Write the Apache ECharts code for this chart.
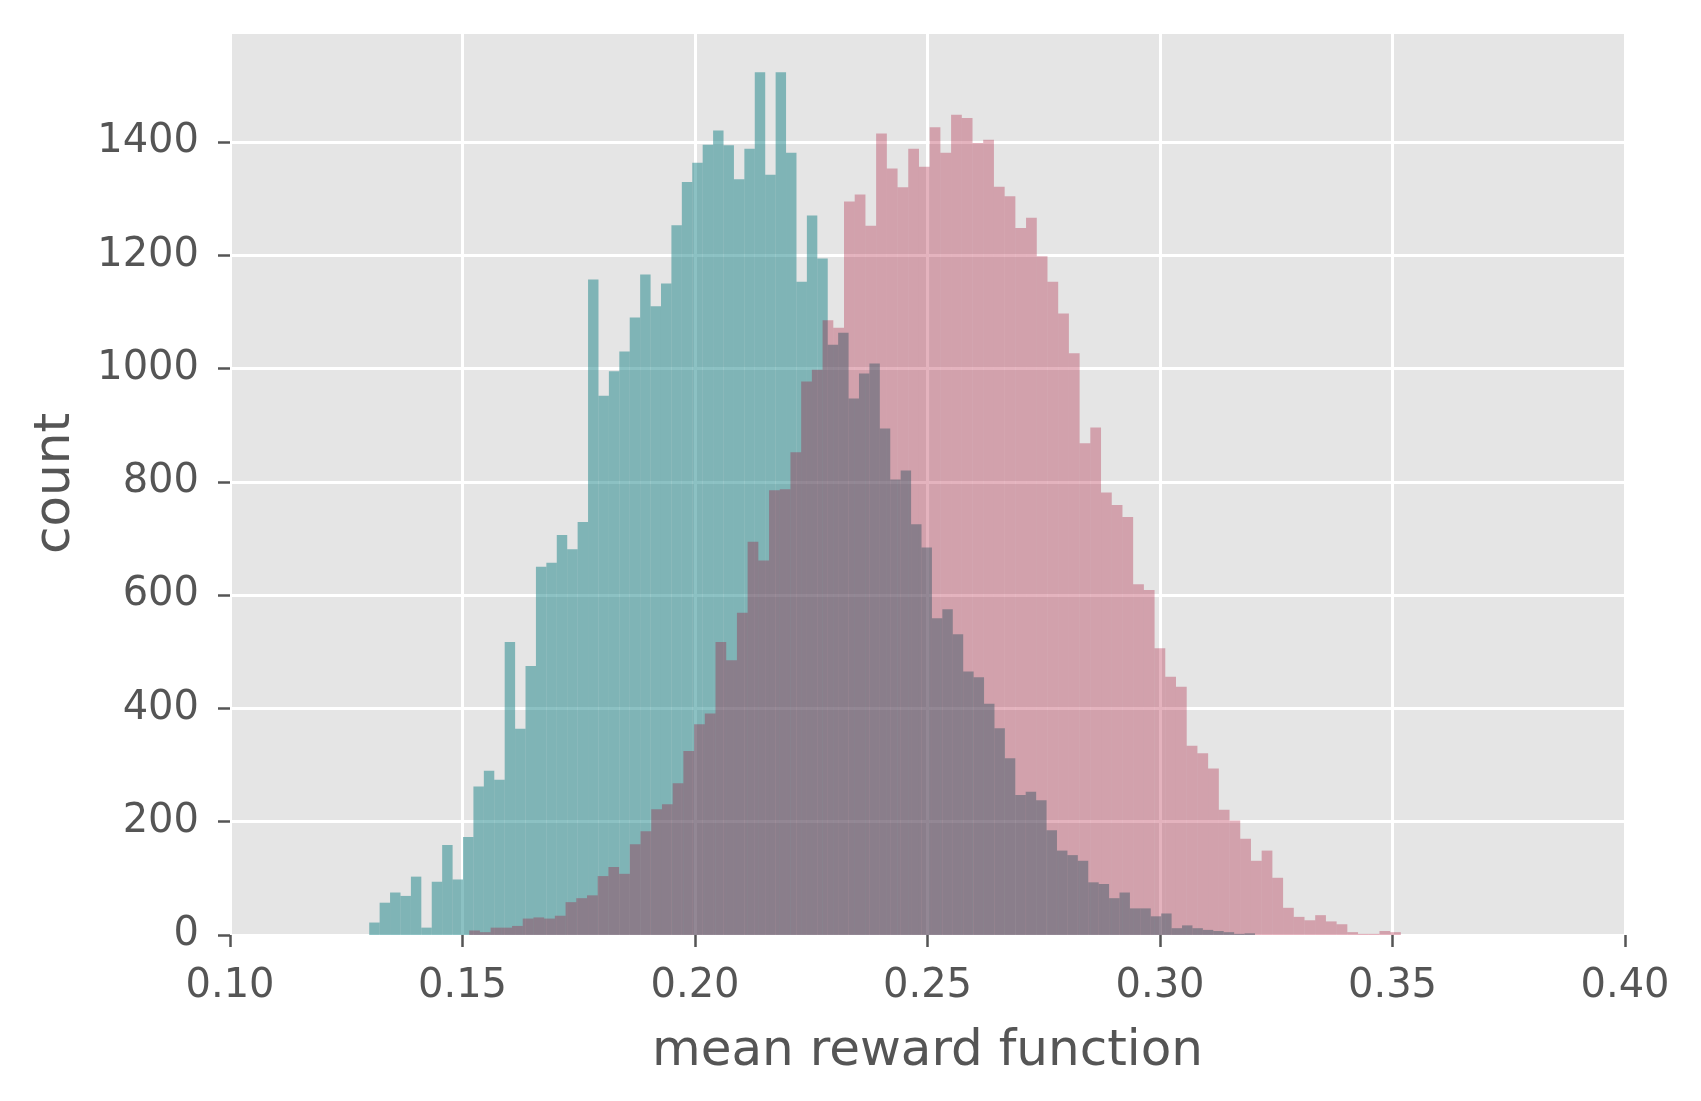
<!DOCTYPE html>
<html>
<head>
<meta charset="utf-8">
<script src="https://cdn.jsdelivr.net/npm/echarts@6/dist/echarts.min.js"></script>
<style>
  html, body { margin: 0; padding: 0; background: #fff; }
  #chart { width: 1701px; height: 1101px; }
</style>
</head>
<body>
<div id="chart"></div>
<script>
// teal histogram: first bin edge, bin width, counts per bin
const tealStart = 0.12994
const tealWidth = 0.002241
const tealCounts = [
  22, 57, 75, 69, 103, 13, 94, 159, 98, 173,
  262, 290, 274, 517, 364, 475, 650, 657, 706, 681,
  729, 1157, 952, 995, 1030, 1090, 1166, 1110, 1150, 1253,
  1329, 1363, 1395, 1420, 1394, 1334, 1388, 1523, 1342, 1523,
  1381, 1153, 1270, 1194, 1042, 1063, 947, 991, 1009, 894,
  804, 820, 725, 684, 559, 575, 531, 465, 455, 408,
  365, 312, 247, 253, 238, 185, 149, 141, 131, 93,
  90, 65, 75, 47, 47, 33, 38, 12, 17, 12,
  9, 7, 5, 2, 3
]

// pink histogram
const pinkStart = 0.15144
const pinkWidth = 0.002303
const pinkCounts = [
  8, 5, 13, 13, 16, 29, 31, 29, 34, 58,
  65, 70, 104, 120, 108, 160, 183, 222, 231, 268,
  325, 372, 391, 517, 485, 569, 694, 661, 785, 787,
  852, 977, 998, 1085, 1072, 1295, 1307, 1252, 1415, 1353,
  1320, 1388, 1356, 1426, 1381, 1448, 1442, 1398, 1404, 1321,
  1304, 1248, 1266, 1198, 1153, 1097, 1027, 868, 896, 781,
  759, 738, 619, 609, 506, 456, 438, 334, 321, 294,
  221, 202, 170, 131, 149, 101, 48, 32, 26, 35,
  24, 19, 5, 2, 2, 7, 5
]

const xTicks = [0.10, 0.15, 0.20, 0.25, 0.30, 0.35, 0.40]
const yTicks = [0, 200, 400, 600, 800, 1000, 1200, 1400]

// [left edge, right edge, count]
const toBins = (start, width, counts) =>
  counts.map((c, i) => [start + i * width, start + (i + 1) * width, c])

const histItem = (fill) => (params, api) => {
  const p0 = api.coord([api.value(0), api.value(2)])
  const p1 = api.coord([api.value(1), 0])
  return {
    type: 'rect',
    shape: { x: p0[0], y: p0[1], width: p1[0] - p0[0], height: p1[1] - p0[1] },
    style: { fill: fill }
  }
}

const textColor = '#555555'
const font = 'DejaVu Sans'

let myChart = echarts.init(document.getElementById('chart'))

let options = {
  animation: false,
  backgroundColor: '#ffffff',
  textStyle: { fontFamily: font },
  grid: {
    left: 230,
    right: 76,
    top: 32,
    bottom: 166,
    show: true,
    backgroundColor: '#e5e5e5',
    borderWidth: 0
  },
  xAxis: {
    type: 'value',
    min: xTicks[0],
    max: xTicks[xTicks.length - 1],
    interval: 0.05,
    name: 'mean reward function',
    nameLocation: 'middle',
    nameGap: 92,
    nameTextStyle: { fontSize: 50, color: textColor, fontFamily: font },
    axisLine: { show: false },
    axisTick: { show: true, length: 12, lineStyle: { color: textColor, width: 2.5 } },
    axisLabel: {
      fontSize: 40, color: textColor, fontFamily: font, margin: 32,
      formatter: (v) => v.toFixed(2)
    },
    splitLine: { show: true, lineStyle: { color: '#ffffff', width: 3 } }
  },
  yAxis: {
    type: 'value',
    min: yTicks[0],
    max: 1594,
    interval: 200,
    name: 'count',
    nameLocation: 'middle',
    nameGap: 149,
    nameTextStyle: { fontSize: 50, color: textColor, fontFamily: font },
    axisLine: { show: false },
    axisTick: { show: true, length: 12, lineStyle: { color: textColor, width: 2.5 } },
    axisLabel: {
      fontSize: 40, color: textColor, fontFamily: font, margin: 31,
      showMaxLabel: false,
      formatter: (v) => (yTicks.includes(v) ? String(v) : '')
    },
    splitLine: { show: true, lineStyle: { color: '#ffffff', width: 3 } }
  },
  series: [
    {
      name: 'teal',
      type: 'custom',
      renderItem: histItem('rgba(25, 131, 135, 0.5)'),
      encode: { x: [0, 1], y: 2 },
      data: toBins(tealStart, tealWidth, tealCounts),
      z: 2
    },
    {
      name: 'pink',
      type: 'custom',
      renderItem: histItem('rgba(166, 2, 39, 0.3)'),
      encode: { x: [0, 1], y: 2 },
      data: toBins(pinkStart, pinkWidth, pinkCounts),
      z: 3
    }
  ]
}

myChart.setOption(options)
</script>
</body>
</html>
